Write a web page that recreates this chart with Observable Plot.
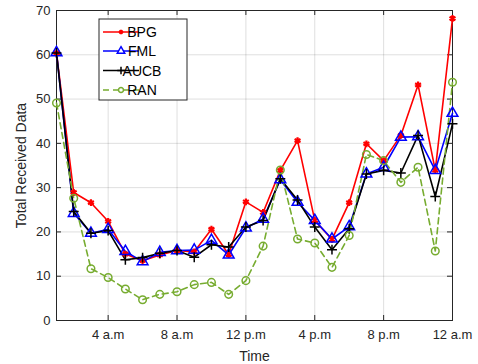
<!DOCTYPE html>
<html><head><meta charset="utf-8">
<script src="https://cdn.jsdelivr.net/npm/d3@7"></script>
<script src="https://cdn.jsdelivr.net/npm/@observablehq/plot@0.6"></script>
<style>body{margin:0;background:#fff;font-family:"Liberation Sans",Arial,sans-serif}</style>
</head><body><div id="chart"></div>
<script>
const hours = [1,2,3,4,5,6,7,8,9,10,11,12,13,14,15,16,17,18,19,20,21,22,23,24];
const bpg  = [60.4,28.9,26.6,22.4,15.0,13.5,14.8,15.8,15.5,20.6,14.9,26.8,24.4,33.9,40.6,22.6,18.3,26.6,39.9,36.1,41.8,53.2,33.9,68.2];
const fml  = [60.5,24.2,19.7,20.6,15.6,13.3,15.4,15.8,15.9,18.1,14.8,20.9,22.9,31.8,26.7,22.6,18.4,21.2,33.1,34.6,41.4,41.5,33.9,46.8];
const aucb = [60.4,24.6,19.7,20.3,13.7,14.2,15.2,15.8,14.3,17.1,16.6,21.1,22.6,32.0,27.2,21.1,16.0,20.7,33.1,33.9,33.3,41.8,28.0,44.4];
const ran  = [49.1,27.6,11.7,9.7,7.1,4.7,5.9,6.5,8.1,8.6,5.9,9.0,16.8,34.0,18.4,17.5,12.0,19.2,37.5,36.1,31.2,34.6,15.7,53.8];
const seriesNames = ["BPG","FML","AUCB","RAN"];
const seriesColors = ["#ff0000","#0000ff","#000000","#77ac30"];
const seriesSymbols = ["asterisk","triangle","plus","circle"];
const tickHours = [4,8,12,16,20,24];
const tickLabels = ["4 a.m","8 a.m","12 p.m","4 p.m","8 p.m","12 a.m"];
const yTicks = [0,10,20,30,40,50,60,70];

const allSeries = [bpg, fml, aucb, ran];
const rows = [];
allSeries.forEach((vals, s) => vals.forEach((v, i) => rows.push({hour: hours[i], value: v, series: seriesNames[s]})));

const W = 478, H = 364, mL = 56, mR = 26, mT = 10, mB = 44;
const innerH = H - mT - mB, innerW = W - mL - mR;
const tickLenY = 70 * 5 / innerH;   // 5px in data units
const tickLenX = 23 * 5 / innerW;

const marks = [
  Plot.gridX(tickHours, {stroke: "#000", strokeOpacity: 0.13}),
  Plot.gridY(yTicks, {stroke: "#000", strokeOpacity: 0.13}),
  Plot.ruleX(tickHours, {y1: 0, y2: tickLenY, stroke: "#262626"}),
  Plot.ruleX(tickHours, {y1: 70 - tickLenY, y2: 70, stroke: "#262626"}),
  Plot.ruleY(yTicks, {x1: 1, x2: 1 + tickLenX, stroke: "#262626"}),
  Plot.ruleY(yTicks, {x1: 24 - tickLenX, x2: 24, stroke: "#262626"}),
  Plot.frame({stroke: "#262626"}),
  Plot.axisX(tickHours, {tickSize: 0, tickPadding: 9, tickFormat: (d) => tickLabels[tickHours.indexOf(d)], fontSize: 13, label: null}),
  Plot.axisX({anchor: "bottom", ticks: [], tickSize: 0, label: "Time", labelAnchor: "center", labelArrow: "none", labelOffset: 40, fontSize: 14}),
  Plot.axisY(yTicks, {tickSize: 0, tickPadding: 6, fontSize: 13, label: null}),
  Plot.axisY({anchor: "left", ticks: [], tickSize: 0, label: "Total Received Data", labelAnchor: "center", labelArrow: "none", labelOffset: 40, fontSize: 14})
];
seriesNames.forEach((name, s) => {
  const data = rows.filter(r => r.series === name);
  marks.push(Plot.line(data, {x: "hour", y: "value", stroke: seriesColors[s], strokeWidth: 1.6, strokeDasharray: name === "RAN" ? "6,4" : null}));
});
seriesNames.forEach((name, s) => {
  const data = rows.filter(r => r.series === name);
  const opts = {x: "hour", y: "value", stroke: seriesColors[s], symbol: () => seriesSymbols[s], strokeWidth: 1.5, r: 3.8};
  if (name === "BPG") { opts.strokeWidth = 2.2; opts.r = 3.2; }
  if (name === "FML") { opts.r = 4; }
  if (name === "AUCB") { opts.r = 3.3; }
  marks.push(Plot.dot(data, opts));
});

const chart = Plot.plot({
  width: W, height: H, marginLeft: mL, marginRight: mR, marginTop: mT, marginBottom: mB,
  style: {fontFamily: "'Liberation Sans', Arial, sans-serif", fontSize: "13px", color: "#262626", background: "#fff"},
  x: {domain: [1, 24]},
  y: {domain: [0, 70]},
  symbol: {type: "identity"},
  marks
});
document.getElementById("chart").appendChild(chart);

// Legend inside the plot (MATLAB style)
const svg = d3.select(chart);
const lg = svg.append("g");
lg.append("rect").attr("x", 99).attr("y", 19).attr("width", 88).attr("height", 81)
  .attr("fill", "#fff").attr("stroke", "#262626").attr("stroke-width", 1);
const legendY = [32, 51, 70.5, 90];
const symMap = {asterisk: d3.symbolAsterisk, triangle: d3.symbolTriangle, plus: d3.symbolPlus, circle: d3.symbolCircle};
seriesNames.forEach((name, s) => {
  const y = legendY[s];
  lg.append("line").attr("x1", 103).attr("x2", 139).attr("y1", y).attr("y2", y)
    .attr("stroke", seriesColors[s]).attr("stroke-width", 1.6)
    .attr("stroke-dasharray", name === "RAN" ? "6,4" : null);
  const sym = d3.symbol().type(symMap[seriesSymbols[s]])
    .size(name === "FML" ? 24 : name === "BPG" ? 14 : 20);
  lg.append("path").attr("d", sym()).attr("transform", `translate(121,${y})`)
    .attr("fill", (name === "FML" || name === "RAN") ? "#fff" : "none")
    .attr("stroke", seriesColors[s]).attr("stroke-width", name === "BPG" ? 2.2 : 1.5);
  lg.append("text").attr("x", 142).attr("y", y).attr("dy", "0.36em")
    .attr("font-size", 14).attr("fill", "#000").text(name);
});
</script>
</body></html>
